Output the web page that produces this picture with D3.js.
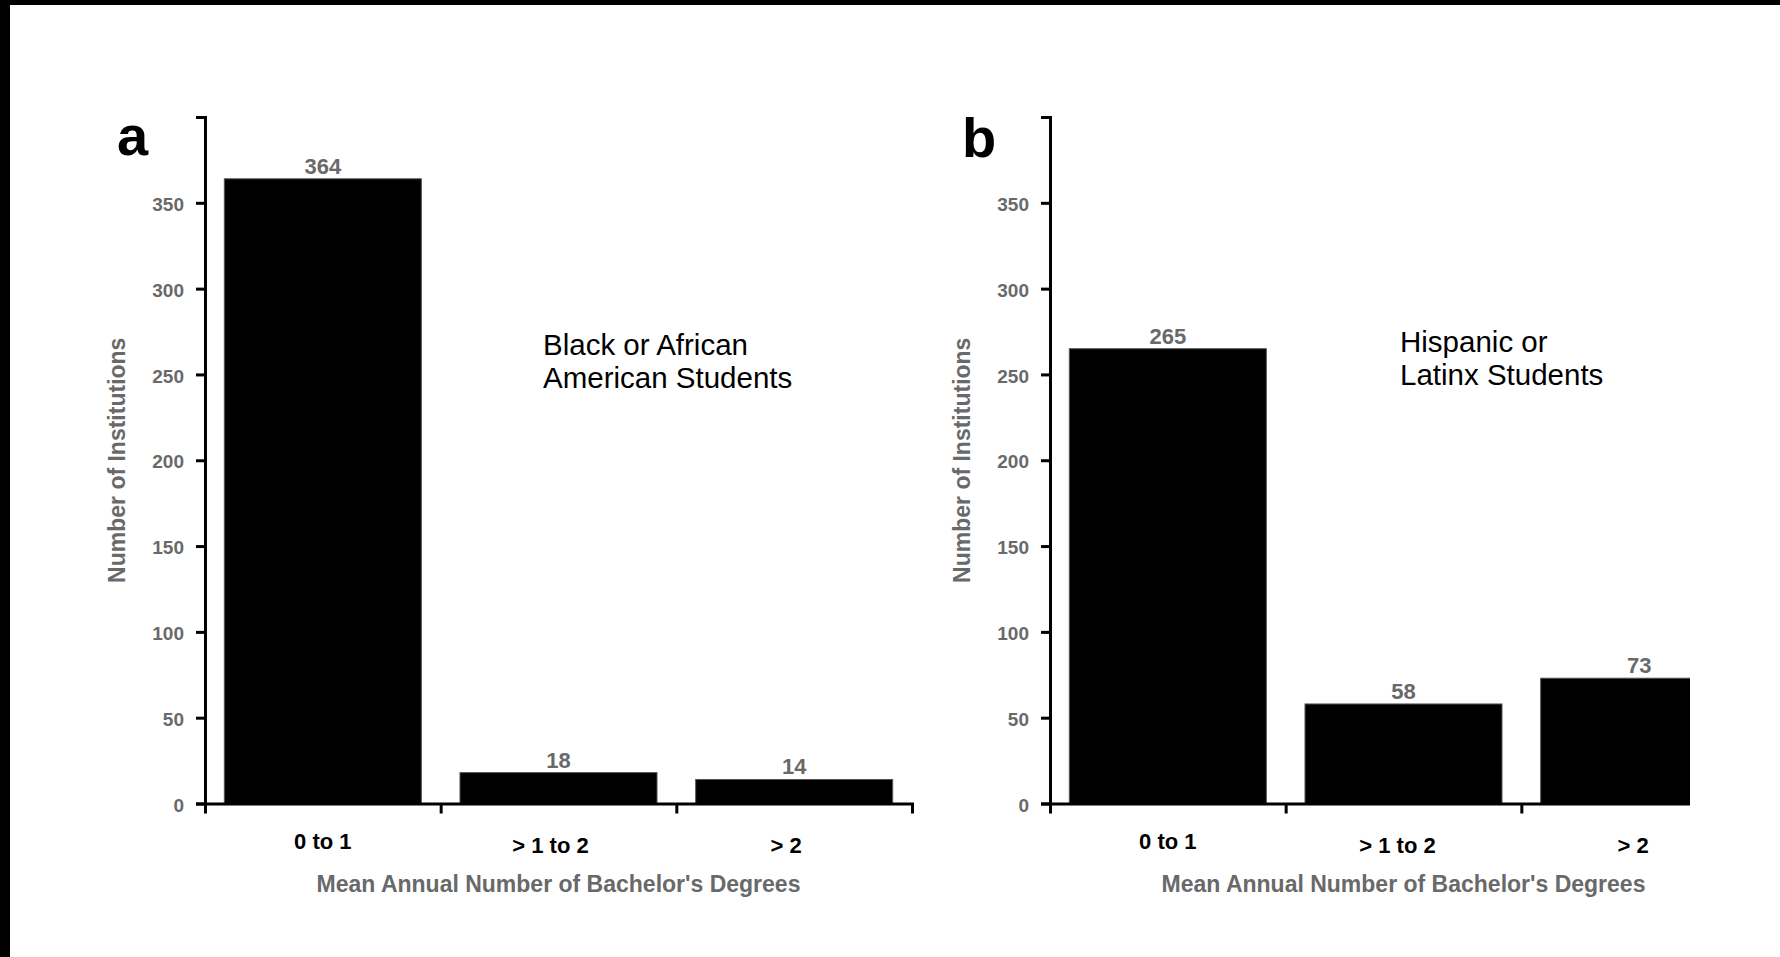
<!DOCTYPE html>
<html lang="en">
<head>
    <meta charset="UTF-8">
    <title>Institutions by mean annual bachelor's degrees</title>
    <style>
        body { margin: 0; background: #fff; }
        text { font-family: "Liberation Sans", Arial, Helvetica, sans-serif; }
    </style>
</head>
<body>
<script src="https://cdn.jsdelivr.net/npm/d3@7"></script>
<script>
    // data
    var categories = ["0 to 1", "> 1 to 2", "> 2"];
    var blackValues = [364, 18, 14];
    var hispanicValues = [265, 58, 73];
    var yTicks = [0, 50, 100, 150, 200, 250, 300, 350];
    var panelLetters = ["a", "b"];
    var panelNotes = [["Black or African", "American Students"], ["Hispanic or", "Latinx Students"]];
    var xTitle = "Mean Annual Number of Bachelor's Degrees";
    var yTitle = "Number of Institutions";

    var W = 1780, H = 957;
    var plotW = 707, plotTop = 117, plotBottom = 803.5;
    var grey = "#696969";

    var svg = d3.select("body").append("svg")
            .attr("width", W)
            .attr("height", H);

    svg.append("rect").attr("width", W).attr("height", H).attr("fill", "#fff");
    // black edges of the scanned figure
    svg.append("rect").attr("width", W).attr("height", 5).attr("fill", "#000");
    svg.append("rect").attr("width", 10).attr("height", H).attr("fill", "#000");

    svg.append("defs").append("clipPath").attr("id", "cropB")
            .append("rect").attr("x", -200).attr("y", -200).attr("width", 840).attr("height", 1200);

    var y = d3.scaleLinear().domain([0, 400]).range([plotBottom - plotTop, 0]);
    var x = d3.scaleBand().domain(categories).range([0, plotW])
            .paddingInner(0.164).paddingOuter(0.082);
    var xEdge = d3.scaleLinear().domain([0, categories.length]).range([0, plotW]);

    var panels = [
        {values: blackValues, left: 205, letterX: 117, letterY: 155, noteX: 338, noteY: 238, labelShift: -8},
        {values: hispanicValues, left: 1050, letterX: 962, letterY: 157, noteX: 350, noteY: 235, labelShift: -6}
    ];

    panels.forEach(function(p, i) {
        var g = svg.append("g")
                .attr("transform", "translate(" + p.left + "," + plotTop + ")");
        if (i === 1) g.attr("clip-path", "url(#cropB)");

        // bars
        g.selectAll(".bar")
                .data(p.values)
                .enter().append("rect")
                .attr("x", function(d, j) { return x(categories[j]); })
                .attr("y", function(d) { return y(d); })
                .attr("width", x.bandwidth())
                .attr("height", function(d) { return y(0) - y(d); })
                .attr("fill", "#000")
                .attr("stroke", "#555")
                .attr("stroke-width", 1);

        // value labels
        g.selectAll(".val")
                .data(p.values)
                .enter().append("text")
                .attr("x", function(d, j) { return x(categories[j]) + x.bandwidth() / 2; })
                .attr("y", function(d) { return y(d) - 5; })
                .attr("text-anchor", "middle")
                .style("font-size", "22px")
                .style("font-weight", "bold")
                .style("fill", grey)
                .text(function(d) { return d; });

        // y axis
        var ya = g.append("g")
                .call(d3.axisLeft(y).tickValues(yTicks).tickSize(9).tickSizeOuter(9).tickPadding(12));
        ya.select(".domain").attr("stroke", "#000").attr("stroke-width", 3).attr("fill", "none");
        ya.selectAll(".tick line").attr("stroke", "#000").attr("stroke-width", 3);
        ya.selectAll(".tick text")
                .attr("dy", "0.4em")
                .style("font-size", "19px")
                .style("font-weight", "bold")
                .style("fill", grey)
                .style("font-family", "'Liberation Sans', Arial, sans-serif");

        // x axis: boundary ticks
        var xb = g.append("g")
                .attr("transform", "translate(0," + y(0) + ")")
                .call(d3.axisBottom(xEdge).tickValues([1, 2]).tickFormat("").tickSize(10).tickSizeOuter(10));
        xb.select(".domain").attr("stroke", "#000").attr("stroke-width", 3).attr("fill", "none");
        xb.selectAll(".tick line").attr("stroke", "#000").attr("stroke-width", 3);

        // x axis: category labels
        var xl = g.append("g")
                .attr("transform", "translate(0," + y(0) + ")")
                .call(d3.axisBottom(x).tickSize(0).tickPadding(0));
        xl.select(".domain").remove();
        xl.selectAll(".tick text")
                .attr("y", function(d, j) { return j ? 49 : 45.5; })
                .attr("dx", function(d, j) { return j ? p.labelShift : 0; })
                .attr("dy", 0)
                .style("font-size", "22px")
                .style("font-weight", "bold")
                .style("fill", "#000")
                .style("font-family", "'Liberation Sans', Arial, sans-serif");

        // axis titles
        g.append("text")
                .attr("x", plotW / 2)
                .attr("y", y(0) + 88)
                .attr("text-anchor", "middle")
                .style("font-size", "23px")
                .style("font-weight", "bold")
                .style("fill", grey)
                .text(xTitle);

        g.append("text")
                .attr("transform", "translate(-80," + (y(0) / 2) + ") rotate(-90)")
                .attr("text-anchor", "middle")
                .style("font-size", "23px")
                .style("font-weight", "bold")
                .style("fill", grey)
                .text(yTitle);

        // note
        g.append("text")
                .attr("x", p.noteX)
                .attr("y", p.noteY)
                .style("font-size", "29.5px")
                .style("fill", "#000")
                .selectAll("tspan")
                .data(panelNotes[i])
                .enter().append("tspan")
                .attr("x", p.noteX)
                .attr("dy", function(d, j) { return j ? 33 : 0; })
                .text(function(d) { return d; });

        // panel letter
        svg.append("text")
                .attr("x", p.letterX)
                .attr("y", p.letterY)
                .style("font-size", "56px")
                .style("font-weight", "bold")
                .style("fill", "#000")
                .text(panelLetters[i]);
    });
</script>
</body>
</html>
